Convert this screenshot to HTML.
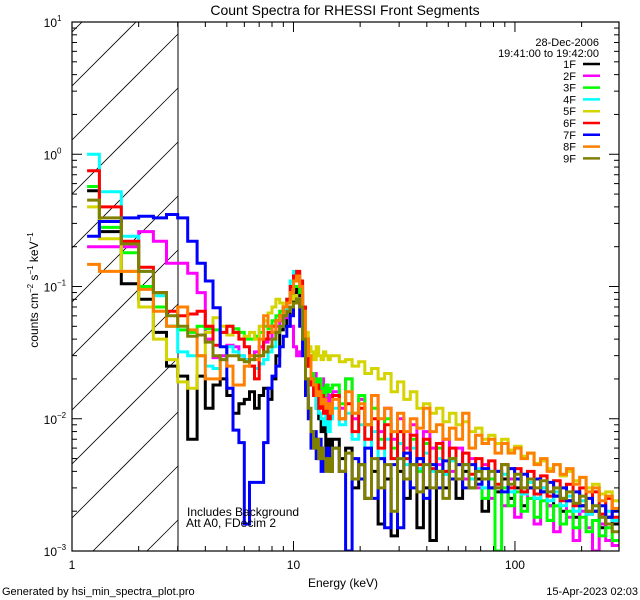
<!DOCTYPE html>
<html><head><meta charset="utf-8">
<style>
html,body{margin:0;padding:0;background:#fff;}
svg{display:block;font-family:"Liberation Sans",sans-serif;}
</style></head>
<body>
<svg id="chart" width="640" height="600" viewBox="0 0 640 600" xmlns="http://www.w3.org/2000/svg">
<rect x="0" y="0" width="640" height="600" fill="#fff"/>
<text x="345" y="15" font-size="14" text-anchor="middle">Count Spectra for RHESSI Front Segments</text>
<defs><clipPath id="plotclip"><rect x="72" y="22" width="547" height="529"/></clipPath></defs>
<g id="hatch" clip-path="url(#plotclip)"></g>
<line x1="178" y1="22" x2="178" y2="551" stroke="#000" stroke-width="1"/>
<g id="series" clip-path="url(#plotclip)"></g>
<g id="axes"></g>
<text x="343" y="587" font-size="12" text-anchor="middle">Energy (keV)</text>
<text transform="translate(38,290) rotate(-90)" font-size="12" text-anchor="middle">counts cm<tspan font-size="8" dy="-5">−2</tspan><tspan dy="5"> s</tspan><tspan font-size="8" dy="-5">−1</tspan><tspan dy="5"> keV</tspan><tspan font-size="8" dy="-5">−1</tspan></text>
<text x="187" y="516" font-size="12">Includes Background</text>
<text x="186" y="527" font-size="12">Att A0, FDecim 2</text>
<text x="599" y="46" font-size="11" text-anchor="end">28-Dec-2006</text>
<text x="599" y="57" font-size="11" text-anchor="end">19:41:00 to 19:42:00</text>
<g id="legend"></g>
<text x="2" y="595" font-size="11">Generated by hsi_min_spectra_plot.pro</text>
<text x="638" y="595" font-size="11" text-anchor="end">15-Apr-2023 02:03</text>
</svg>
<script>
// Bin edges (keV)
const binEdges = [1.17,1.33,1.67,2,2.33,2.67,3,
3.33,3.67,4,4.33,4.67,5,5.33,5.67,6,6.33,6.67,7,7.33,7.67,8,8.33,8.67,9,9.33,9.67,10,10.33,10.67,11,11.33,11.67,12,12.33,12.67,13,13.33,13.67,14,14.33,14.67,15,
16.1,17.2,18.4,19.7,21.0,22.5,24.1,25.8,27.6,29.5,31.5,33.7,36.1,38.6,41.3,44.2,47.3,50.6,54.2,58.0,62.0,66.4,71.0,76.0,81.3,87.0,93.1,99.6,106.6,114,122,130.5,139.7,149.5,160,171,183,196,209.5,224,240,257,275,295];
const seriesNames = ["1F","2F","3F","4F","5F","6F","7F","8F","9F"];
const seriesColors = ["#000000","#ff00ff","#00ff00","#00ffff","#d4d400","#ff0000","#0000ff","#ff8000","#808000"];
const s1F = [0.53,0.26,0.105,0.08,0.045,0.025,
0.021,0.007,0.021,0.012,0.018,0.02,0.015,0.011,0.013,0.014,0.016,0.012,0.015,0.017,0.014,0.02,0.03,0.047,0.05,0.06,0.07,0.09,0.1,0.085,0.06,0.04,0.025,0.02,0.015,0.012,0.01,0.008,0.009,0.006,0.007,0.005,
0.007,0.005,0.006,0.003,0.0045,0.0025,0.004,0.0016,0.0035,0.0013,0.004,0.0025,0.0045,0.0015,0.003,0.0012,0.004,0.003,0.0035,0.0025,0.004,0.003,0.0035,0.002,0.003,0.0028,0.0035,0.0025,0.003,0.0022,0.003,0.0025,0.0028,0.0022,0.0026,0.002,0.0024,0.0018,0.0022,0.0019,0.002,0.0015,0.0018,0.0016];
const s2F = [0.2,0.2,0.2,0.26,0.22,0.15,
0.15,0.126,0.09,0.04,0.029,0.03,0.036,0.035,0.03,0.028,0.03,0.032,0.035,0.038,0.04,0.045,0.05,0.055,0.058,0.06,0.05,0.035,0.03,0.032,0.04,0.03,0.025,0.02,0.022,0.018,0.015,0.02,0.014,0.016,0.013,0.015,
0.016,0.012,0.02,0.01,0.014,0.009,0.015,0.008,0.012,0.007,0.01,0.006,0.009,0.005,0.008,0.006,0.0045,0.007,0.004,0.006,0.0035,0.005,0.003,0.0045,0.0025,0.004,0.0022,0.0035,0.0018,0.003,0.0025,0.0016,0.003,0.0022,0.0014,0.0025,0.0018,0.0012,0.002,0.0015,0.001,0.0016,0.0012,0.0011];
const s3F = [0.57,0.28,0.18,0.1,0.07,0.05,
0.047,0.045,0.05,0.048,0.047,0.045,0.05,0.048,0.045,0.04,0.04,0.042,0.045,0.05,0.048,0.055,0.06,0.065,0.07,0.08,0.09,0.1,0.1,0.09,0.06,0.04,0.03,0.022,0.02,0.018,0.02,0.017,0.015,0.018,0.016,0.017,
0.018,0.013,0.02,0.011,0.015,0.009,0.012,0.007,0.01,0.006,0.008,0.005,0.007,0.004,0.0065,0.0045,0.006,0.0038,0.005,0.0035,0.0045,0.003,0.004,0.0025,0.0035,0.001,0.003,0.0022,0.0028,0.002,0.0025,0.0018,0.0024,0.0017,0.0022,0.0016,0.002,0.0015,0.0018,0.0014,0.0017,0.0013,0.0015,0.0012];
const s4F = [1.0,0.52,0.24,0.13,0.085,0.05,
0.032,0.03,0.03,0.025,0.024,0.028,0.035,0.032,0.03,0.028,0.025,0.024,0.026,0.028,0.032,0.035,0.045,0.05,0.06,0.08,0.11,0.13,0.125,0.1,0.06,0.035,0.025,0.02,0.015,0.012,0.011,0.01,0.009,0.011,0.008,0.01,
0.012,0.009,0.011,0.007,0.009,0.006,0.008,0.005,0.007,0.005,0.0065,0.0045,0.006,0.0042,0.0055,0.004,0.005,0.0038,0.0048,0.0035,0.0045,0.0035,0.0042,0.003,0.004,0.003,0.0038,0.0028,0.0035,0.0027,0.0033,0.0025,0.003,0.0024,0.0028,0.0022,0.0026,0.002,0.0024,0.0019,0.0022,0.0018,0.002,0.0017];
const s5F = [0.4,0.23,0.13,0.07,0.04,0.028,
0.019,0.017,0.03,0.045,0.058,0.05,0.043,0.045,0.04,0.042,0.045,0.04,0.05,0.055,0.063,0.07,0.08,0.075,0.07,0.075,0.08,0.085,0.08,0.07,0.055,0.045,0.035,0.032,0.028,0.035,0.03,0.028,0.032,0.03,0.028,0.03,
0.03,0.027,0.028,0.025,0.027,0.022,0.024,0.02,0.022,0.016,0.019,0.014,0.016,0.012,0.013,0.011,0.012,0.0095,0.011,0.009,0.0095,0.008,0.0085,0.007,0.0075,0.0065,0.007,0.0058,0.0062,0.0052,0.0055,0.0046,0.0048,0.0042,0.0045,0.0037,0.004,0.0034,0.0036,0.003,0.0032,0.0027,0.0028,0.0024];
const s6F = [0.75,0.4,0.22,0.14,0.09,0.065,
0.06,0.062,0.065,0.05,0.036,0.045,0.05,0.045,0.04,0.035,0.025,0.02,0.03,0.04,0.045,0.05,0.055,0.06,0.07,0.08,0.1,0.12,0.13,0.11,0.07,0.04,0.025,0.018,0.015,0.018,0.012,0.015,0.011,0.013,0.01,0.012,
0.015,0.01,0.013,0.008,0.012,0.007,0.01,0.006,0.009,0.005,0.008,0.005,0.0075,0.0045,0.007,0.0042,0.0065,0.004,0.006,0.0045,0.0055,0.0038,0.005,0.0035,0.0048,0.0032,0.0045,0.003,0.0042,0.0028,0.004,0.0027,0.0037,0.0026,0.0034,0.0024,0.0032,0.0022,0.003,0.002,0.0028,0.0019,0.0025,0.0018];
const s7F = [0.24,0.31,0.33,0.34,0.33,0.35,
0.33,0.22,0.15,0.11,0.069,0.035,0.017,0.0082,0.0066,0.0016,0.0033,0.0033,0.0033,0.0066,0.017,0.021,0.025,0.035,0.042,0.05,0.06,0.075,0.08,0.05,0.03,0.015,0.01,0.006,0.008,0.005,0.007,0.004,0.006,0.005,0.006,0.004,
0.006,0.004,0.001,0.005,0.0035,0.006,0.0025,0.005,0.0015,0.0045,0.0015,0.0055,0.003,0.005,0.0025,0.0045,0.003,0.0048,0.0035,0.0045,0.003,0.0045,0.0032,0.0042,0.003,0.004,0.0028,0.0042,0.0035,0.0038,0.003,0.0035,0.0028,0.0033,0.0026,0.003,0.0024,0.0028,0.0022,0.0025,0.002,0.0022,0.0018,0.002];
const s8F = [0.147,0.13,0.13,0.095,0.065,0.05,
0.07,0.047,0.03,0.02,0.02,0.028,0.025,0.018,0.018,0.025,0.03,0.028,0.04,0.06,0.05,0.045,0.055,0.06,0.07,0.075,0.09,0.11,0.12,0.1,0.065,0.04,0.03,0.02,0.018,0.015,0.016,0.013,0.014,0.012,0.013,0.011,
0.014,0.01,0.016,0.011,0.013,0.009,0.015,0.01,0.012,0.008,0.011,0.008,0.01,0.0085,0.012,0.008,0.009,0.007,0.0085,0.007,0.011,0.006,0.0075,0.0065,0.007,0.0055,0.0065,0.0055,0.006,0.005,0.0055,0.0045,0.005,0.004,0.0045,0.0038,0.0042,0.0032,0.0036,0.0028,0.003,0.0024,0.0026,0.0021];
const s9F = [0.45,0.33,0.21,0.13,0.09,0.06,
0.05,0.042,0.043,0.038,0.03,0.028,0.03,0.03,0.028,0.027,0.028,0.03,0.03,0.032,0.035,0.04,0.045,0.05,0.06,0.065,0.07,0.075,0.08,0.07,0.04,0.02,0.012,0.008,0.006,0.007,0.005,0.006,0.005,0.004,0.005,0.004,
0.006,0.004,0.0055,0.0035,0.0045,0.0025,0.005,0.003,0.0045,0.002,0.005,0.0035,0.0045,0.0028,0.0045,0.003,0.004,0.0025,0.005,0.0035,0.0045,0.003,0.004,0.0035,0.004,0.003,0.0045,0.0032,0.0038,0.003,0.0035,0.003,0.0034,0.0028,0.003,0.0025,0.0028,0.0023,0.0026,0.002,0.0022,0.0018,0.0016,0.0014];
const xTickLabels = ["1","10","100"];
const xTickValues = [1,10,100];
const yTickExps = [1,0,-1,-2,-3];

const NS="http://www.w3.org/2000/svg";
const X0=72,X1=619,Y0=22,Y1=551;
const XMIN=1,XMAX=295,YMIN=0.001,YMAX=10;
function xs(e){return X0+(X1-X0)*(Math.log10(e)-Math.log10(XMIN))/(Math.log10(XMAX)-Math.log10(XMIN));}
function ys(v){v=Math.max(v,YMIN*0.5);return Y1-(Y1-Y0)*(Math.log10(v)-Math.log10(YMIN))/(Math.log10(YMAX)-Math.log10(YMIN));}
function mk(t,a){const el=document.createElementNS(NS,t);for(const k in a)el.setAttribute(k,a[k]);return el;}

const hatch=document.getElementById('hatch');
for(let c=104;c<=740;c+=54){
  const l=mk('line',{x1:72,y1:c-72,x2:178,y2:c-178,stroke:'#000','stroke-width':0.8});
  
  
  hatch.appendChild(l);
}

const allSeries=[s1F,s2F,s3F,s4F,s5F,s6F,s7F,s8F,s9F];
const sg=document.getElementById('series');
allSeries.forEach((vals,si)=>{
  let d='';
  for(let i=0;i<vals.length;i++){
    const xa=xs(binEdges[i]).toFixed(1),xb=xs(binEdges[i+1]).toFixed(1),y=ys(vals[i]).toFixed(1);
    d+=(i===0?'M':'L')+xa+' '+y+'L'+xb+' '+y;
  }
  const p=mk('path',{d:d,fill:'none',stroke:seriesColors[si],'stroke-width':3,'stroke-linejoin':'miter'});
  
  
  sg.appendChild(p);
});

const ax=document.getElementById('axes');
const box=mk('rect',{x:X0,y:Y0,width:X1-X0,height:Y1-Y0,fill:'none',stroke:'#000','stroke-width':1.2});


ax.appendChild(box);
for(let dec=1;dec<=100;dec*=10){
  for(let m=1;m<=9;m++){
    const e=dec*m; if(e>XMAX) break;
    const x=xs(e), len=(m===1)?10:5;
    const t1=mk('line',{x1:x,y1:Y1,x2:x,y2:Y1-len,stroke:'#000','stroke-width':1});
    
    
    ax.appendChild(t1);
    const t2=mk('line',{x1:x,y1:Y0,x2:x,y2:Y0+len,stroke:'#000','stroke-width':1});
    
    
    ax.appendChild(t2);
  }
}
xTickValues.forEach((v,i)=>{
  const t=mk('text',{x:xs(v),y:569,'font-size':12,'text-anchor':'middle'});
  t.textContent=xTickLabels[i];
  
  
  ax.appendChild(t);
});
for(let ex=-3;ex<=1;ex++){
  for(let m=1;m<=9;m++){
    const v=m*Math.pow(10,ex); if(v>YMAX) break;
    const y=ys(v), len=(m===1)?10:5;
    const t1=mk('line',{x1:X0,y1:y,x2:X0+len,y2:y,stroke:'#000','stroke-width':1});
    
    
    ax.appendChild(t1);
    const t2=mk('line',{x1:X1,y1:y,x2:X1-len,y2:y,stroke:'#000','stroke-width':1});
    
    
    ax.appendChild(t2);
  }
}
yTickExps.forEach(ex=>{
  const y=ys(Math.pow(10,ex));
  const t=mk('text',{x:57,y:y+5,'font-size':12,'text-anchor':'end'});
  t.textContent='10';
  
  
  ax.appendChild(t);
  const s=mk('text',{x:57,y:y-1,'font-size':8,'text-anchor':'start'});
  s.textContent=(ex<0?'−':'')+Math.abs(ex);
  
  
  ax.appendChild(s);
});

const lg=document.getElementById('legend');
seriesNames.forEach((n,i)=>{
  const y=64+11.8*i;
  const t=mk('text',{x:576,y:y+4,'font-size':11,'text-anchor':'end'});
  t.textContent=n;
  
  
  lg.appendChild(t);
  const l=mk('line',{x1:583,y1:y,x2:600,y2:y,stroke:seriesColors[i],'stroke-width':2.5});
  
  
  lg.appendChild(l);
});
</script>
</body></html>
